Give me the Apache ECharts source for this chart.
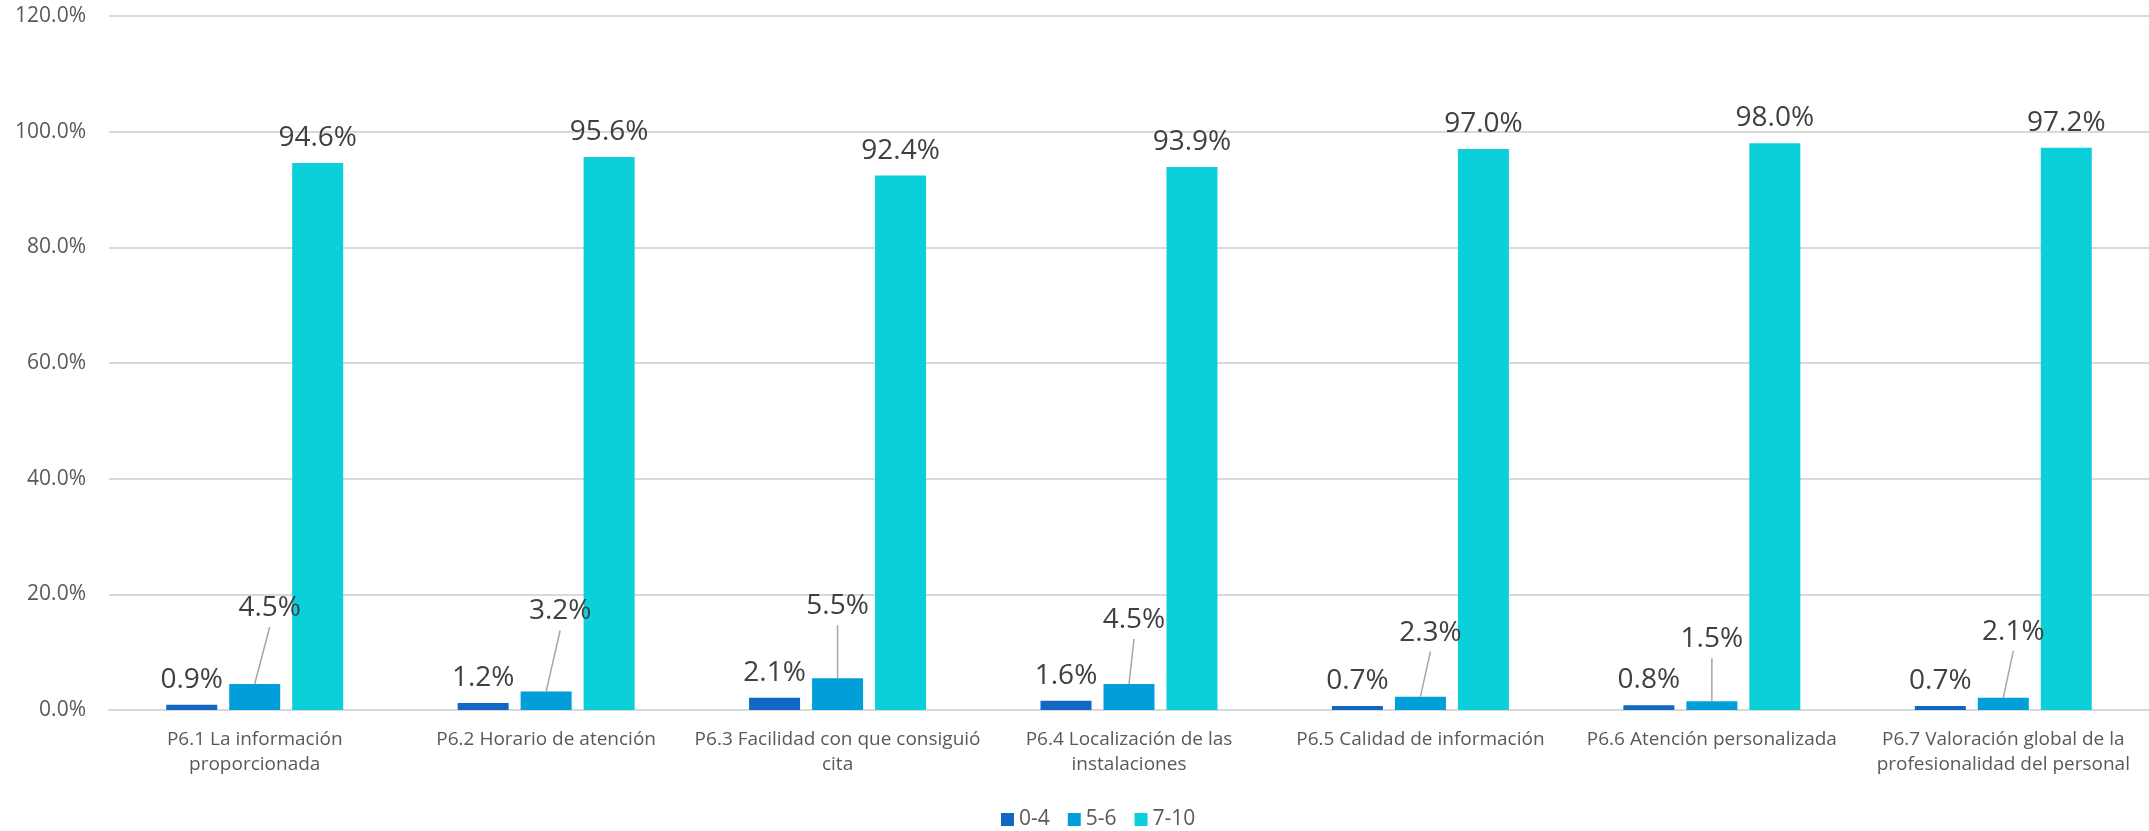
<!DOCTYPE html>
<html>
<head>
<meta charset="utf-8">
<style>
  html, body { margin: 0; padding: 0; background: #ffffff; }
  #chart { width: 2149px; height: 831px; }
</style>
<script src="https://cdn.jsdelivr.net/npm/echarts@6/dist/echarts.min.js"></script>
</head>
<body>
<div id="chart"></div>
<script>
// Satisfaction scores by item, share of answers in each score band (%)
const categories = [
  'P6.1 La información\nproporcionada',
  'P6.2 Horario de atención',
  'P6.3 Facilidad con que consiguió\ncita',
  'P6.4 Localización de las\ninstalaciones',
  'P6.5 Calidad de información',
  'P6.6 Atención personalizada',
  'P6.7 Valoración global de la\nprofesionalidad del personal'
];
const seriesNames = ['0-4', '5-6', '7-10'];
const band04 = [0.9, 1.2, 2.1, 1.6, 0.7, 0.8, 0.7];
const band56 = [4.5, 3.2, 5.5, 4.5, 2.3, 1.5, 2.1];
const band710 = [94.6, 95.6, 92.4, 93.9, 97.0, 98.0, 97.2];
const yTicks = { min: 0, max: 120, interval: 20 };

// Label offsets (px) for the middle band, whose labels sit higher with a leader line
const midLabelShift = [[15, -51], [14, -55], [0, -47], [5, -39], [10, -39], [0, -37], [10, -41]];

const colors = ['#1267c4', '#009fda', '#0bcfd9'];
const FONT = '"Open Sans", "Noto Sans", sans-serif';

const valueLabel = {
  show: true,
  position: 'top',
  distance: 11,
  fontFamily: FONT,
  fontSize: 28,
  color: '#404040',
  formatter: p => p.value.toFixed(1) + '%'
};

const chart = echarts.init(document.getElementById('chart'), null, { renderer: 'canvas' });

chart.setOption({
  animation: false,
  backgroundColor: '#ffffff',
  color: colors,
  grid: { left: 109, right: -4, top: 16, bottom: 121, containLabel: false },
  legend: {
    data: seriesNames,
    left: 996,
    top: 804,
    itemWidth: 13,
    itemHeight: 13,
    itemGap: 18,
    icon: 'rect',
    textStyle: { fontFamily: FONT, fontSize: 21, color: '#595959' }
  },
  xAxis: {
    type: 'category',
    data: categories,
    axisLine: { show: true, lineStyle: { color: '#d9d9d9', width: 2 } },
    axisTick: { show: false },
    axisLabel: {
      interval: 0,
      margin: 17,
      fontFamily: FONT,
      fontSize: 19,
      lineHeight: 25,
      color: '#595959',
      align: 'center'
    }
  },
  yAxis: {
    type: 'value',
    min: yTicks.min,
    max: yTicks.max,
    interval: yTicks.interval,
    axisLine: { show: false },
    axisTick: { show: false },
    splitLine: { show: true, lineStyle: { color: '#d9d9d9', width: 2 } },
    axisLabel: {
      margin: 23,
      fontFamily: FONT,
      fontSize: 21,
      color: '#595959',
      formatter: v => v.toFixed(1) + '%'
    }
  },
  series: [
    {
      name: seriesNames[0],
      type: 'bar',
      data: band04,
      barWidth: 51,
      barGap: '23.5%',
      label: valueLabel
    },
    {
      name: seriesNames[1],
      type: 'bar',
      data: band56,
      barWidth: 51,
      barGap: '23.5%',
      label: valueLabel,
      labelLayout: function (params) {
        const s = midLabelShift[params.dataIndex];
        return { dx: s[0], dy: s[1] };
      }
    },
    {
      name: seriesNames[2],
      type: 'bar',
      data: band710,
      barWidth: 51,
      barGap: '23.5%',
      label: valueLabel
    }
  ]
});

// Leader lines: from the top centre of each middle bar up to its shifted label
const leaders = band56.map((v, i) => {
  const p = chart.convertToPixel({ xAxisIndex: 0, yAxisIndex: 0 }, [i, v]);
  const s = midLabelShift[i];
  return {
    type: 'line',
    silent: true,
    z: 10,
    shape: { x1: p[0], y1: p[1], x2: p[0] + s[0], y2: p[1] + s[1] - 6 },
    style: { stroke: '#a6a6a6', lineWidth: 1.5 }
  };
});
chart.setOption({ graphic: leaders });
</script>
</body>
</html>
